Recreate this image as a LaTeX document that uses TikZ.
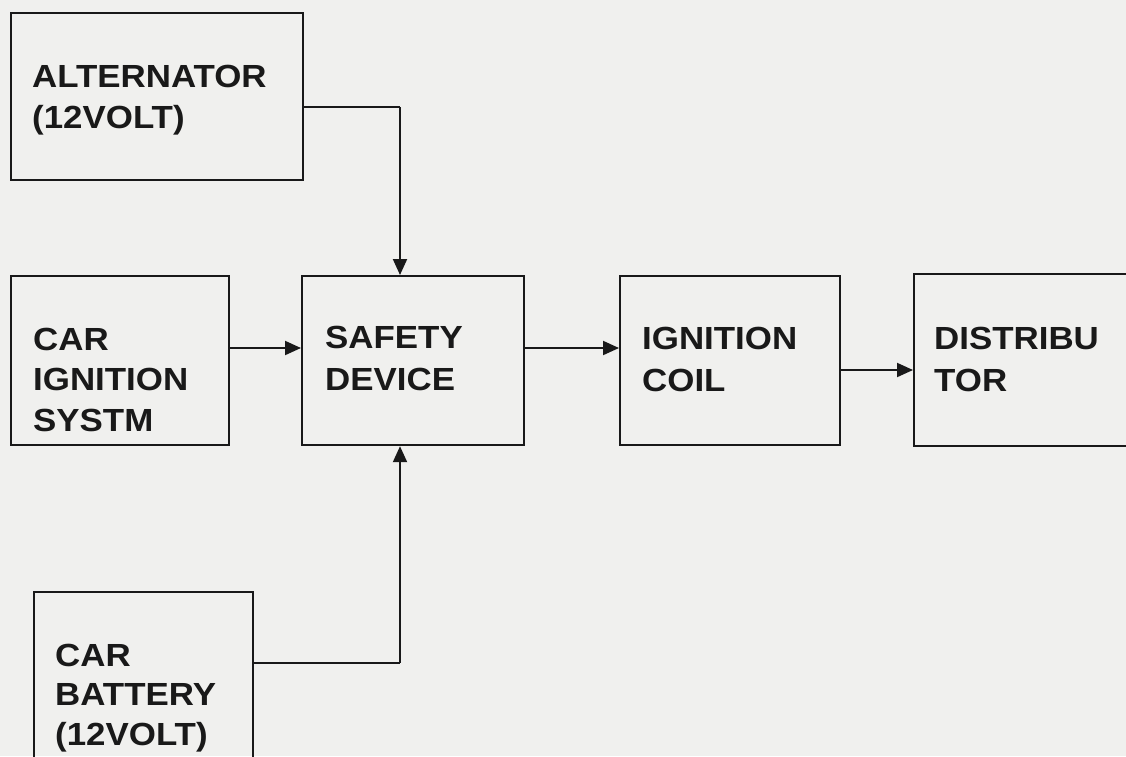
\documentclass[tikz,border=0pt]{standalone}
\usepackage{fontspec}
\setmainfont[FakeStretch=1.09]{Liberation Sans}
\usetikzlibrary{arrows.meta}
\definecolor{paper}{RGB}{240,240,238}
\definecolor{ink}{RGB}{25,25,25}
\begin{document}
\begin{tikzpicture}[x=1pt,y=-1pt,
  box/.style={draw=ink,line width=2.2pt,rectangle,anchor=north west,inner sep=0pt},
  lbl/.style={anchor=base west,inner sep=0pt,font=\fontsize{32}{40}\selectfont\bfseries,text=ink},
  conn/.style={draw=ink,line width=2pt,-{Triangle[length=16pt,width=14pt]}},
  wire/.style={draw=ink,line width=2pt}]
\useasboundingbox (0,0) rectangle (1126,756);
\fill[paper] (0,0) rectangle (1126,756);
\clip (0,0) rectangle (1126,756);
% boxes
\node[box,minimum width=292pt,minimum height=167pt] (alt) at (10,12) {};
\node[box,minimum width=218pt,minimum height=169pt] (ign) at (10,275) {};
\node[box,minimum width=222pt,minimum height=169pt] (safe) at (301,275) {};
\node[box,minimum width=220pt,minimum height=169pt] (coil) at (619,275) {};
\node[box,minimum width=230pt,minimum height=172pt] (dist) at (913,273) {};
\node[box,minimum width=219pt,minimum height=190pt] (bat) at (33,591) {};
% labels
\node[lbl] (alt1) at (32,87) {ALTERNATOR};
\node[lbl] (alt2) at (32,128) {(12VOLT)};
\node[lbl] (ign1) at (33,350) {CAR};
\node[lbl] (ign2) at (33,390) {IGNITION};
\node[lbl] (ign3) at (33,431) {SYSTM};
\node[lbl] (safe1) at (325,348) {SAFETY};
\node[lbl] (safe2) at (325,390) {DEVICE};
\node[lbl] (coil1) at (642,349) {IGNITION};
\node[lbl] (coil2) at (642,391) {COIL};
\node[lbl] (dist1) at (934,349) {DISTRIBU};
\node[lbl] (dist2) at (934,391) {TOR};
\node[lbl] (bat1) at (55,666) {CAR};
\node[lbl] (bat2) at (55,705) {BATTERY};
\node[lbl] (bat3) at (55,745) {(12VOLT)};
% connector helpers
\coordinate (ja) at (400,107);
\coordinate (jb) at (400,663);
\coordinate (r1) at (0,348);
\coordinate (r2) at (0,370);
% connectors
\draw[wire] (ja -| alt.east) -- (ja);
\draw[conn] (ja) -- (ja |- safe.north);
\draw[wire] (jb -| bat.east) -- (jb);
\draw[conn] (jb) -- (jb |- safe.south);
\draw[conn] (r1 -| ign.east) -- (r1 -| safe.west);
\draw[conn] (r1 -| safe.east) -- (r1 -| coil.west);
\draw[conn] (r2 -| coil.east) -- (r2 -| dist.west);
\end{tikzpicture}
\end{document}
